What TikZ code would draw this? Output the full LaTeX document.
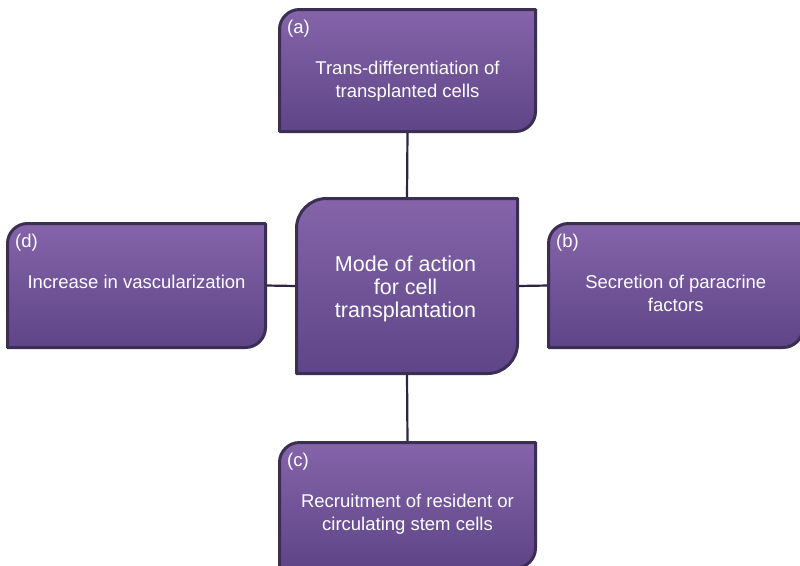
\documentclass[tikz,border=0pt]{standalone}
\usepackage{fontspec}
\setmainfont{Liberation Sans}
\usetikzlibrary{positioning,calc}
\definecolor{cTop}{HTML}{8564AA}
\definecolor{cBot}{HTML}{5E4587}
\definecolor{cEdge}{HTML}{3A2E52}
\definecolor{cWire}{HTML}{2E2542}
% box outline: top-left and bottom-right corners rounded
\newcommand{\cellbox}[2]{%
  \draw[box] (#1.south west) -- ([yshift=-#2]#1.north west)
    arc[start angle=180, end angle=90, radius=#2] -- (#1.north east)
    -- ([yshift=#2]#1.south east) arc[start angle=0, end angle=-90, radius=#2] -- cycle;}

\begin{document}
\begin{tikzpicture}[x=1pt, y=-1pt,
  frame/.style={inner sep=0pt, outer sep=0pt, minimum width=256pt, minimum height=122pt},
  box/.style={draw=cEdge, line width=3pt, top color=cTop, bottom color=cBot, line join=round},
  wire/.style={draw=cWire, line width=2.2pt},
  tag/.style={inner sep=0pt, text=white, anchor=north west, font=\fontsize{18.5}{23}\selectfont},
  txt/.style={inner sep=0pt, text=white, anchor=north, align=center, font=\fontsize{18.5}{23}\selectfont}]
\useasboundingbox (0,0) rectangle (800,565);
\clip (0,0) rectangle (800,565);
\node[frame, minimum width=221pt, minimum height=175pt] (mid) at (407,286) {};
\node[frame] (a) at (407.5,70.5) {};
\node[frame, minimum width=254.5pt, minimum height=124pt] (b) at (675.75,285.5) {};
\node[frame, minimum height=125.5pt] (c) at (407.5,505.25) {};
\node[frame, minimum width=258pt, minimum height=124pt] (d) at (136.5,285.5) {};
\foreach \n/\s/\t in {a/north/south, b/east/west, c/south/north, d/west/east}
  \draw[wire] (mid.\s) -- (\n.\t);
\cellbox{mid}{30pt}
\foreach \n in {a,b,c,d} {
  \cellbox{\n}{20pt}
  \node[tag] (\n-lab) at ([xshift=7.5pt, yshift=-10.5pt]\n.north west) {(\n)};
}
\node[txt] (a-txt) at ([yshift=-51.5pt]a.north) {Trans-differentiation of\\transplanted cells};
\node[txt] (b-txt) at ([yshift=-51.5pt]b.north) {Secretion of paracrine\\factors};
\node[txt] (c-txt) at ([yshift=-51.5pt]c.north) {Recruitment of resident or\\circulating stem cells};
\node[txt] (d-txt) at ([yshift=-51.5pt]d.north) {Increase in vascularization};
\node[inner sep=0pt, text=white, align=center, font=\fontsize{21.5}{23}\selectfont] (mid-txt)
  at ([xshift=-1.5pt, yshift=-3pt]mid.center) {Mode of action\\for cell\\transplantation};
\end{tikzpicture}
\end{document}
